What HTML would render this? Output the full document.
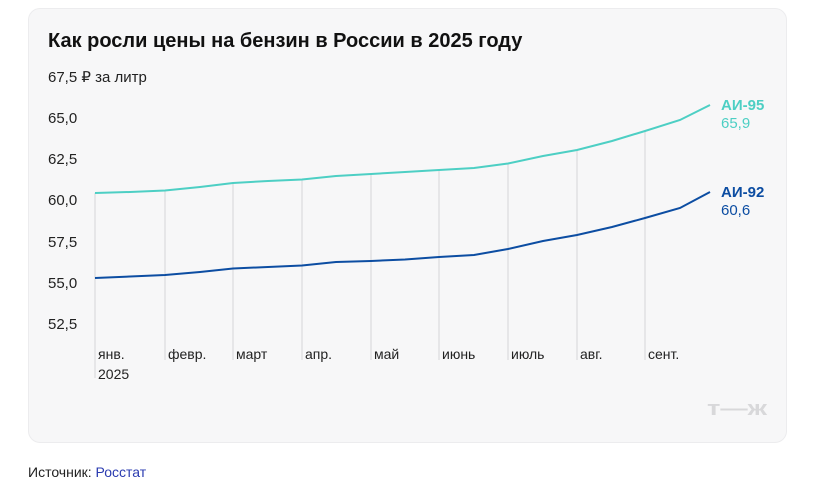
<!DOCTYPE html>
<html><head><meta charset="utf-8"><style>
body{margin:0;background:#fff;width:822px;height:488px;overflow:hidden;font-family:"Liberation Sans",sans-serif}
.card{position:absolute;left:28px;top:8px;width:759px;height:435px;background:#f7f7f8;border:1px solid #ececee;border-radius:12px;box-sizing:border-box}
</style></head><body>
<div class="card"></div>
<svg width="822" height="488" style="position:absolute;left:0;top:0" font-family="Liberation Sans, sans-serif">
<text x="48" y="47" font-size="20" font-weight="bold" fill="#111">Как росли цены на бензин в России в 2025 году</text>
<g font-size="15" fill="#222">
<text x="48" y="82">67,5 ₽ за литр</text>
<text x="48" y="123">65,0</text>
<text x="48" y="164">62,5</text>
<text x="48" y="205">60,0</text>
<text x="48" y="247">57,5</text>
<text x="48" y="288">55,0</text>
<text x="48" y="329">52,5</text>
</g>
<g stroke="#e6e6e8" stroke-width="2">
<line x1="95" y1="193" x2="95" y2="378"/>
<line x1="165" y1="191" x2="165" y2="360"/>
<line x1="233" y1="183" x2="233" y2="360"/>
<line x1="302" y1="180" x2="302" y2="360"/>
<line x1="371" y1="174" x2="371" y2="360"/>
<line x1="439" y1="170" x2="439" y2="360"/>
<line x1="508" y1="163" x2="508" y2="360"/>
<line x1="577" y1="150" x2="577" y2="360"/>
<line x1="645" y1="131" x2="645" y2="360"/>
</g>
<g font-size="14" fill="#222">
<text x="98" y="359">янв.</text><text x="98" y="379">2025</text>
<text x="168" y="359">февр.</text>
<text x="236" y="359">март</text>
<text x="305" y="359">апр.</text>
<text x="374" y="359">май</text>
<text x="442" y="359">июнь</text>
<text x="511" y="359">июль</text>
<text x="580" y="359">авг.</text>
<text x="648" y="359">сент.</text>
</g>
<polyline fill="none" stroke="#4dcfc4" stroke-width="2" points="95,193 130,192 165,190.5 200,187 233,183 268,181 302,179.5 336,176 371,174 405,172 439,170 474,168 508,163.5 543,156 577,150 612,141 645,131 680,120 710,105"/>
<polyline fill="none" stroke="#0c4da2" stroke-width="2" points="95,278 130,276.5 165,275 200,272 233,268.5 268,267 302,265.5 336,262 371,261 405,259.5 439,257 474,255 508,249 543,241 577,235 612,227 645,218 680,208 710,192"/>
<text x="721" y="110" font-size="15" font-weight="bold" fill="#4dcfc4">АИ-95</text>
<text x="721" y="128" font-size="15" fill="#4dcfc4">65,9</text>
<text x="721" y="197" font-size="15" font-weight="bold" fill="#0c4da2">АИ-92</text>
<text x="721" y="215" font-size="15" fill="#0c4da2">60,6</text>
<text x="707" y="415" font-size="20" font-weight="bold" fill="#d8d8da" textLength="60" lengthAdjust="spacingAndGlyphs">т—ж</text>
<text x="28" y="477" font-size="14" fill="#222">Источник: <tspan fill="#2a3bb0">Росстат</tspan></text>
</svg>
</body></html>
